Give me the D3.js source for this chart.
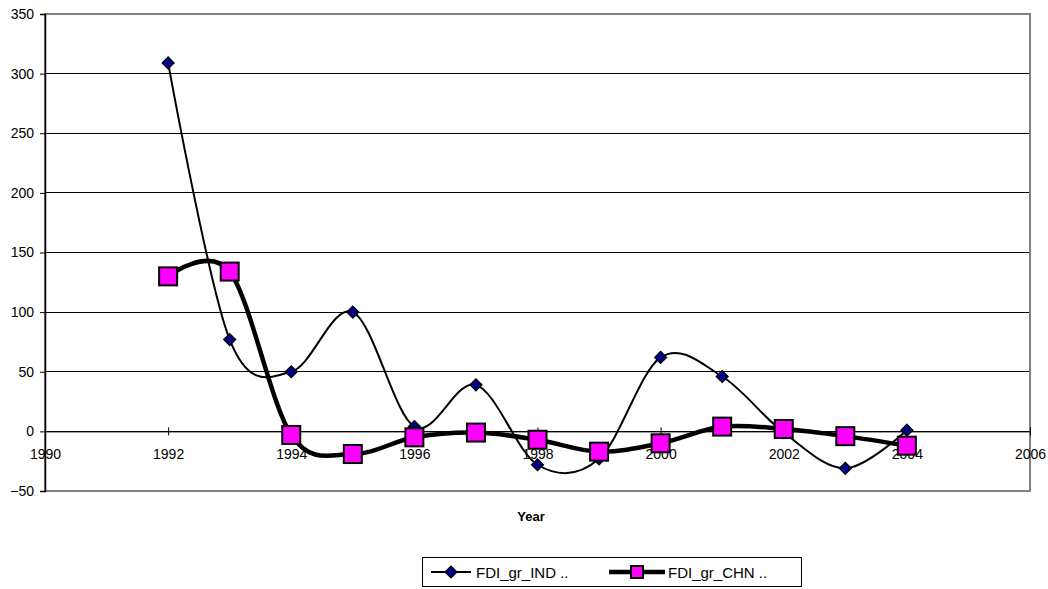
<!DOCTYPE html>
<html><head><meta charset="utf-8">
<script src="https://cdnjs.cloudflare.com/ajax/libs/d3/7.8.5/d3.min.js"></script>
<style>body{margin:0;background:#fff;} text{font-family:Arial,"Liberation Sans",sans-serif;}</style>
</head><body>
<svg id="c" width="1048" height="589"></svg>
<script>
const years = [1992,1993,1994,1995,1996,1997,1998,1999,2000,2001,2002,2003,2004];
const fdiIND = [309,77,50,100,4,39,-28,-23,62,46,-1,-31,1];
const fdiCHN = [130,134,-3,-19,-5,-1,-7,-17,-10,4,2,-4,-12];
const yTicks = [-50,0,50,100,150,200,250,300,350];
const xTicks = [1990,1992,1994,1996,1998,2000,2002,2004,2006];
const seriesNames = ["FDI_gr_IND ..","FDI_gr_CHN .."];

const svg = d3.select("#c");
const L=45, R=1030, T=14, B=491;
const x = d3.scaleLinear().domain([1990,2006]).range([L,R]);
const y = d3.scaleLinear().domain([-50,350]).range([B,T]);
const FONT = "Arial, 'Liberation Sans', sans-serif";

// gridlines
svg.append("g").selectAll("line").data(yTicks.filter(v=>v>-50&&v<350)).join("line")
  .attr("x1",L).attr("x2",R).attr("y1",d=>y(d)).attr("y2",d=>y(d))
  .attr("stroke","#000").attr("stroke-width",1).attr("shape-rendering","crispEdges");
// frame
svg.append("rect").attr("x",L).attr("y",T).attr("width",R-L).attr("height",B-T)
  .attr("fill","none").attr("stroke","#808080").attr("stroke-width",2);

// y axis
const ya = svg.append("g").attr("transform",`translate(${L},0)`)
  .call(d3.axisLeft(y).tickValues(yTicks).tickSize(5).tickPadding(6));
ya.select(".domain").attr("stroke","#000").attr("stroke-width",1.5);
ya.selectAll("text").attr("font-size","14px").attr("fill","#000").style("font-family",FONT);

// x axis at y=0
const xa = svg.append("g").attr("transform",`translate(0,${y(0)})`)
  .call(d3.axisBottom(x).tickValues(xTicks).tickFormat(d3.format("d")).tickSize(4).tickPadding(14));
xa.select(".domain").attr("stroke","#000").attr("stroke-width",1);
xa.selectAll(".tick line").attr("y1",-4).attr("stroke","#000");
xa.selectAll("text").attr("font-size","14px").attr("fill","#000").style("font-family",FONT);

svg.append("text").attr("x",531).attr("y",521).attr("text-anchor","middle")
  .attr("font-size","13px").attr("font-weight","bold").text("Year");

const line = d3.line().curve(d3.curveCardinal.tension(0)).x(d=>x(d[0])).y(d=>y(d[1]));
const indData = years.map((yr,i)=>[yr,fdiIND[i]]);
const chnData = years.map((yr,i)=>[yr,fdiCHN[i]]);

svg.append("path").datum(indData).attr("d",line).attr("fill","none").attr("stroke","#000").attr("stroke-width",2);
const diamond = d3.symbol().type(d3.symbolSquare).size(72);
svg.append("g").selectAll("path").data(indData).join("path")
  .attr("d",diamond()).attr("transform",d=>`translate(${x(d[0])},${y(d[1])}) rotate(45)`)
  .attr("fill","#000080").attr("stroke","#000").attr("stroke-width",1.2);

svg.append("path").datum(chnData).attr("d",line).attr("fill","none").attr("stroke","#000").attr("stroke-width",4.5);
svg.append("g").selectAll("rect").data(chnData).join("rect")
  .attr("x",d=>x(d[0])-9).attr("y",d=>y(d[1])-9).attr("width",18).attr("height",18)
  .attr("fill","#ff00ff").attr("stroke","#000").attr("stroke-width",2);

// legend
const lg = svg.append("g");
lg.append("rect").attr("x",422.5).attr("y",557.5).attr("width",379).attr("height",29)
  .attr("fill","#fff").attr("stroke","#000").attr("stroke-width",1);
const ly = 572;
lg.append("line").attr("x1",431).attr("x2",471).attr("y1",ly).attr("y2",ly).attr("stroke","#000").attr("stroke-width",2);
lg.append("path").attr("d",diamond()).attr("transform",`translate(451,${ly}) rotate(45)`)
  .attr("fill","#000080").attr("stroke","#000").attr("stroke-width",1.2);
lg.append("text").attr("x",476).attr("y",ly+6).attr("font-size","15px").text(seriesNames[0]);
lg.append("line").attr("x1",609).attr("x2",665).attr("y1",ly).attr("y2",ly).attr("stroke","#000").attr("stroke-width",4.5);
lg.append("rect").attr("x",631).attr("y",ly-6).attr("width",12).attr("height",12)
  .attr("fill","#ff00ff").attr("stroke","#000").attr("stroke-width",2);
lg.append("text").attr("x",668).attr("y",ly+6).attr("font-size","15px").text(seriesNames[1]);
</script>
</body></html>
